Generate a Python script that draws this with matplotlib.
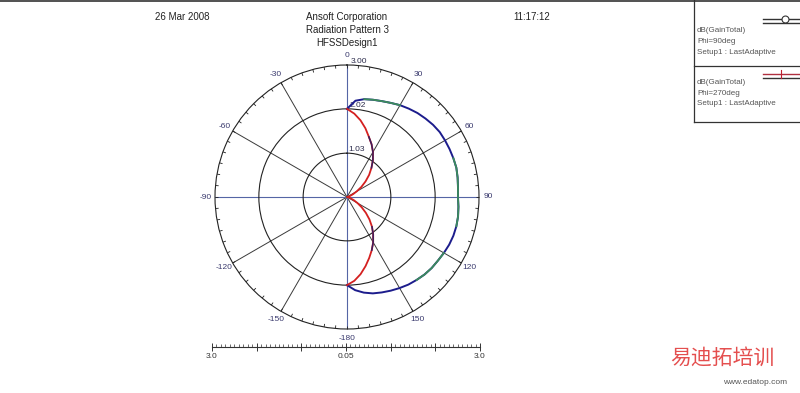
import numpy as np
import matplotlib
matplotlib.use("Agg")
import matplotlib.pyplot as plt
from matplotlib.lines import Line2D
from matplotlib.ticker import FixedLocator, MultipleLocator

plt.rcParams['font.family'] = ['Liberation Sans', 'Noto Sans CJK SC', 'DejaVu Sans']

# ---------------- data ----------------
theta_deg = [0, 5, 10, 15, 20, 25, 30, 35, 40, 45, 50, 55, 60, 65, 70, 75, 80, 85, 90,
             95, 100, 105, 110, 115, 120, 125, 130, 135, 140, 145, 150, 155, 160, 165,
             170, 175, 180]
gain_phi90 = [2.02, 2.21, 2.27, 2.30, 2.33, 2.37, 2.42, 2.46, 2.50, 2.53, 2.56, 2.58,
              2.58, 2.58, 2.58, 2.58, 2.56, 2.54, 2.53, 2.55, 2.57, 2.58, 2.58, 2.57,
              2.55, 2.53, 2.52, 2.50, 2.47, 2.44, 2.40, 2.36, 2.32, 2.28, 2.22, 2.14, 2.02]
gain_phi270 = [2.02, 1.92, 1.79, 1.64, 1.48, 1.35, 1.21, 1.06, 0.90, 0.75, 0.59, 0.44,
               0.30, 0.20, 0.13, 0.09, 0.07, 0.05, 0.05, 0.05, 0.07, 0.10, 0.14, 0.22,
               0.32, 0.45, 0.60, 0.76, 0.92, 1.07, 1.22, 1.36, 1.50, 1.65, 1.80, 1.93, 2.02]
ring_values = [1.03, 2.02, 3.00]
ring_labels = ['1.03', '2.02', '3.00']
r_min, r_max = 0.05, 3.00
theta_tick_deg = [0, 30, 60, 90, 120, 150, 180, 210, 240, 270, 300, 330]
theta_tick_labels = ['0', '30', '60', '90', '120', '150', '-180', '-150', '-120', '-90', '-60', '-30']
scale_labels = ['3.0', '', '', '0.05', '', '', '3.0']
legend_entries = [['dB(GainTotal)', 'Phi=90deg', 'Setup1 : LastAdaptive'],
                  ['dB(GainTotal)', 'Phi=270deg', 'Setup1 : LastAdaptive']]
header_left = '26 Mar 2008'
header_right = '11:17:12'
title_lines = ['Ansoft Corporation', 'Radiation Pattern 3', 'HFSSDesign1']

# ---------------- figure ----------------
W, H = 800, 393
fig = plt.figure(figsize=(W / 100, H / 100), dpi=100)
fig.patch.set_facecolor('white')

def fx(x):
    return x / W

def fy(y):
    return 1 - y / H

cx, cy, R = 347, 197, 132
ax = fig.add_axes([fx(cx - R), fy(cy + R), 2 * R / W, 2 * R / H], projection='polar')
ax.set_theta_zero_location('N')
ax.set_theta_direction(-1)
ax.set_rlim(r_min, r_max)
ax.set_facecolor('none')

ax.set_thetagrids(theta_tick_deg, theta_tick_labels)
ax.set_rgrids(ring_values[:-1], labels=['', ''])
ax.tick_params(axis='x', labelsize=6, labelcolor='#3a3a6e', pad=-3.5)
ax.xaxis.grid(True, color='#3a3a3a', lw=0.7)
ax.yaxis.grid(True, color='#222222', lw=0.8)
for gl, ang in zip(ax.xaxis.get_gridlines(), theta_tick_deg):
    if ang % 90 == 0:
        gl.set_color('#5565a5')
        gl.set_linewidth(0.8)
ax.spines['polar'].set_color('#222222')
ax.spines['polar'].set_linewidth(0.8)

# small ticks on the outer circle every 5 degrees
for a in range(0, 360, 5):
    ax.plot([np.deg2rad(a)] * 2, [r_max - 0.07, r_max], color='#222222', lw=0.6,
            solid_capstyle='butt', clip_on=False)

for v, lab in zip(ring_values, ring_labels):
    ax.text(np.deg2rad(1.5), v, lab, fontsize=6, color='#2a2a4a',
            ha='left', va='bottom')

th = np.deg2rad(np.array(theta_deg, dtype=float))
g90 = np.array(gain_phi90)
g270 = np.array(gain_phi270)
tdeg = np.array(theta_deg)

ax.plot(th, g90, color='#1c1c8c', lw=1.4, zorder=5)
for lo, hi in [(10, 30), (70, 105), (120, 140)]:
    m = (tdeg >= lo) & (tdeg <= hi)
    ax.plot(th[m], g90[m], color='#3c8c5c', lw=1.3, zorder=6)

ax.plot(th, g270, color='#d42020', lw=1.3, zorder=5)
for lo, hi in [(20, 40), (140, 155)]:
    m = (tdeg >= lo) & (tdeg <= hi)
    ax.plot(th[m], g270[m], color='#3a1e5e', lw=1.1, zorder=6)

# ---------------- scale bar ----------------
bx0, bx1, by = 212, 480, 347
axb = fig.add_axes([fx(bx0), fy(by), (bx1 - bx0) / W, 0.0005])
axb.set_xlim(-3, 3)
axb.set_yticks([])
for s in ['top', 'left', 'right']:
    axb.spines[s].set_visible(False)
axb.spines['bottom'].set_color('#333333')
axb.spines['bottom'].set_linewidth(0.8)
axb.xaxis.set_major_locator(FixedLocator([-3, -2, -1, 0, 1, 2, 3]))
axb.set_xticklabels(scale_labels)
axb.xaxis.set_minor_locator(MultipleLocator(0.1))
axb.tick_params(axis='x', which='major', direction='inout', length=6, width=0.7,
                color='#333333', labelsize=6, labelcolor='#333333', pad=1.5)
axb.tick_params(axis='x', which='minor', direction='in', length=2.5, width=0.5,
                color='#333333')

# ---------------- header text ----------------
fig.text(fx(182), fy(17), header_left, fontsize=7, color='#222222', ha='center', va='center')
fig.text(fx(532), fy(17), header_right, fontsize=7, color='#222222', ha='center', va='center')
for i, t in enumerate(title_lines):
    fig.text(fx(347), fy(17 + 13 * i), t, fontsize=7, color='#222222', ha='center',
             va='center')

# ---------------- frame / legend panel ----------------
fig.add_artist(Line2D([0, 1], [fy(0.5), fy(0.5)], transform=fig.transFigure,
                      color='#333333', lw=1.2))
fig.add_artist(Line2D([fx(694), fx(694)], [fy(0), fy(122)], transform=fig.transFigure,
                      color='#333333', lw=0.9))
for yy in [66, 122]:
    fig.add_artist(Line2D([fx(694), 1], [fy(yy), fy(yy)], transform=fig.transFigure,
                          color='#333333', lw=0.9))

# legend samples
fig.add_artist(Line2D([fx(763), 1], [fy(19), fy(19)], transform=fig.transFigure,
                      color='#333333', lw=1.0))
fig.add_artist(Line2D([fx(763), 1], [fy(23), fy(23)], transform=fig.transFigure,
                      color='#333333', lw=1.0))
fig.add_artist(Line2D([fx(785)], [fy(19)], transform=fig.transFigure, marker='o',
                      markersize=5, markerfacecolor='white', markeredgecolor='#333333',
                      markeredgewidth=0.8, lw=0))
fig.add_artist(Line2D([fx(763), 1], [fy(74), fy(74)], transform=fig.transFigure,
                      color='#b03040', lw=1.0))
fig.add_artist(Line2D([fx(763), 1], [fy(78), fy(78)], transform=fig.transFigure,
                      color='#333333', lw=1.0))
fig.add_artist(Line2D([fx(781), fx(781)], [fy(70), fy(78)], transform=fig.transFigure,
                      color='#c02030', lw=0.8))

for k, lines in enumerate(legend_entries):
    y0 = 31 + 52 * k
    for j, t in enumerate(lines):
        fig.text(fx(697), fy(y0 + 10.5 * j), t, fontsize=5.8, color='#555555',
                 ha='left', va='center')

# watermark
fig.text(fx(722), fy(358), '易迪拓培训', fontsize=15, color='#e03030', alpha=0.85,
         ha='center', va='center', family=['Noto Sans CJK SC', 'DejaVu Sans'])
fig.text(fx(755), fy(382), 'www.edatop.com', fontsize=6, color='#555555',
         ha='center', va='center')

fig.savefig('out.png', dpi=100, facecolor='white')
